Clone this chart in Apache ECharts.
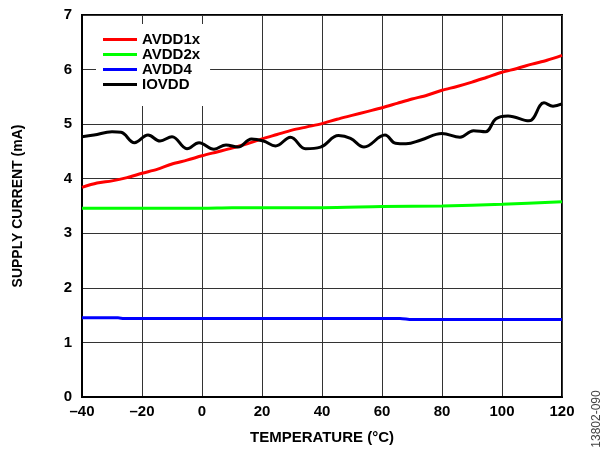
<!DOCTYPE html>
<html>
<head>
    <meta charset="utf-8">
    <title>Supply Current vs Temperature</title>
    <script src="https://cdn.jsdelivr.net/npm/echarts@6/dist/echarts.min.js"></script>
    <style>
        html, body { margin: 0; padding: 0; background: #fff; }
        #chart { width: 604px; height: 451px; }
    </style>
</head>
<body>
    <div id="chart"></div>
    <script>
        // temperature (°C) and supply current (mA)
        var tempRed = [-40, -35, -30, -25, -20, -15, -10, -5, 0, 5, 10, 15, 20, 25, 30, 35, 40,
                       45, 50, 55, 60, 65, 70, 75, 80, 85, 90, 95, 100, 105, 110, 115, 120];
        var avdd1x = [3.84, 3.92, 3.96, 4.02, 4.10, 4.17, 4.27, 4.34, 4.42, 4.49, 4.56, 4.64, 4.73,
                      4.81, 4.89, 4.95, 5.01, 5.09, 5.16, 5.23, 5.30, 5.38, 5.46, 5.53, 5.62, 5.69,
                      5.77, 5.86, 5.95, 6.02, 6.10, 6.17, 6.26];

        var tempGreen = [-40, -20, 0, 10, 20, 40, 60, 80, 100, 120];
        var avdd2x = [3.46, 3.46, 3.46, 3.47, 3.47, 3.47, 3.49, 3.50, 3.53, 3.58];

        var tempBlue = [-40, -28, -26, 0, 40, 66, 70, 120];
        var avdd4 = [1.45, 1.45, 1.44, 1.44, 1.44, 1.44, 1.42, 1.42];

        var tempBlack = [-40, -36, -30, -27, -22.5, -18, -14, -10, -5, -1, 4, 8, 12, 16.5, 20.5,
                         24.5, 29.5, 34.5, 39.5, 45.5, 49.5, 54, 61, 64.5, 68, 73, 80, 86, 90.5,
                         94.5, 98, 102, 109, 114, 117, 120];
        var iovdd = [4.77, 4.80, 4.86, 4.85, 4.66, 4.80, 4.69, 4.77, 4.55, 4.66, 4.54, 4.62, 4.58,
                     4.73, 4.69, 4.60, 4.76, 4.55, 4.58, 4.79, 4.74, 4.58, 4.80, 4.65, 4.64, 4.71,
                     4.83, 4.76, 4.88, 4.86, 5.10, 5.15, 5.06, 5.39, 5.33, 5.37];

        var seriesNames = ['AVDD1x', 'AVDD2x', 'AVDD4', 'IOVDD'];
        var seriesColors = ['#ff0000', '#00ff00', '#0000ff', '#000000'];

        function pairs(xs, ys) {
            return xs.map(function (x, i) { return [x, ys[i]]; });
        }

        var font = 'Arial, "Liberation Sans", sans-serif';
        var chart = echarts.init(document.getElementById('chart'));

        var option = {
            animation: false,
            backgroundColor: '#fff',
            grid: {
                left: 82, right: 42, top: 15, bottom: 54,
                show: true, borderColor: '#000', borderWidth: 2,
                backgroundColor: 'transparent'
            },
            legend: {
                data: seriesNames,
                orient: 'vertical',
                left: 96, top: 24,
                padding: [8, 10, 14, 7],
                backgroundColor: '#fff',
                icon: 'rect',
                itemWidth: 34, itemHeight: 3,
                itemGap: 0,
                textStyle: { fontFamily: font, fontWeight: 'bold', fontSize: 15, color: '#000' }
            },
            xAxis: {
                type: 'value', min: -40, max: 120, interval: 20,
                name: 'TEMPERATURE (°C)', nameLocation: 'middle', nameGap: 33,
                nameTextStyle: { fontFamily: font, fontWeight: 'bold', fontSize: 15, color: '#000' },
                axisLine: { show: true, onZero: false, lineStyle: { color: '#000', width: 2 } },
                axisTick: { show: false },
                splitLine: { show: true, lineStyle: { color: '#333', width: 1 } },
                axisLabel: {
                    margin: 7, fontFamily: font, fontWeight: 'bold', fontSize: 15, color: '#000',
                    formatter: function (v) { return String(v).replace('-', '\u2013'); }
                }
            },
            yAxis: {
                type: 'value', min: 0, max: 7, interval: 1,
                name: 'SUPPLY CURRENT (mA)', nameLocation: 'middle', nameGap: 57,
                nameTextStyle: { fontFamily: font, fontWeight: 'bold', fontSize: 14, color: '#000' },
                axisLine: { show: true, onZero: false, lineStyle: { color: '#000', width: 2 } },
                axisTick: { show: false },
                splitLine: { show: true, lineStyle: { color: '#333', width: 1 } },
                axisLabel: { margin: 10, fontFamily: font, fontWeight: 'bold', fontSize: 15, color: '#000' }
            },
            graphic: [{
                type: 'text',
                x: 597, y: 419,
                rotation: Math.PI / 2,
                style: {
                    text: '13802-090', fontFamily: font, fontSize: 12, fill: '#444',
                    align: 'center', verticalAlign: 'middle'
                }
            }],
            series: [
                { name: seriesNames[0], type: 'line', data: pairs(tempRed, avdd1x), showSymbol: false,
                  smooth: 0.3, lineStyle: { width: 3, color: seriesColors[0] }, itemStyle: { color: seriesColors[0] } },
                { name: seriesNames[1], type: 'line', data: pairs(tempGreen, avdd2x), showSymbol: false,
                  smooth: 0.3, lineStyle: { width: 3, color: seriesColors[1] }, itemStyle: { color: seriesColors[1] } },
                { name: seriesNames[2], type: 'line', data: pairs(tempBlue, avdd4), showSymbol: false,
                  smooth: 0.3, lineStyle: { width: 3, color: seriesColors[2] }, itemStyle: { color: seriesColors[2] } },
                { name: seriesNames[3], type: 'line', data: pairs(tempBlack, iovdd), showSymbol: false,
                  smooth: 0.4, lineStyle: { width: 3, color: seriesColors[3] }, itemStyle: { color: seriesColors[3] } }
            ]
        };

        chart.setOption(option);
    </script>
</body>
</html>
